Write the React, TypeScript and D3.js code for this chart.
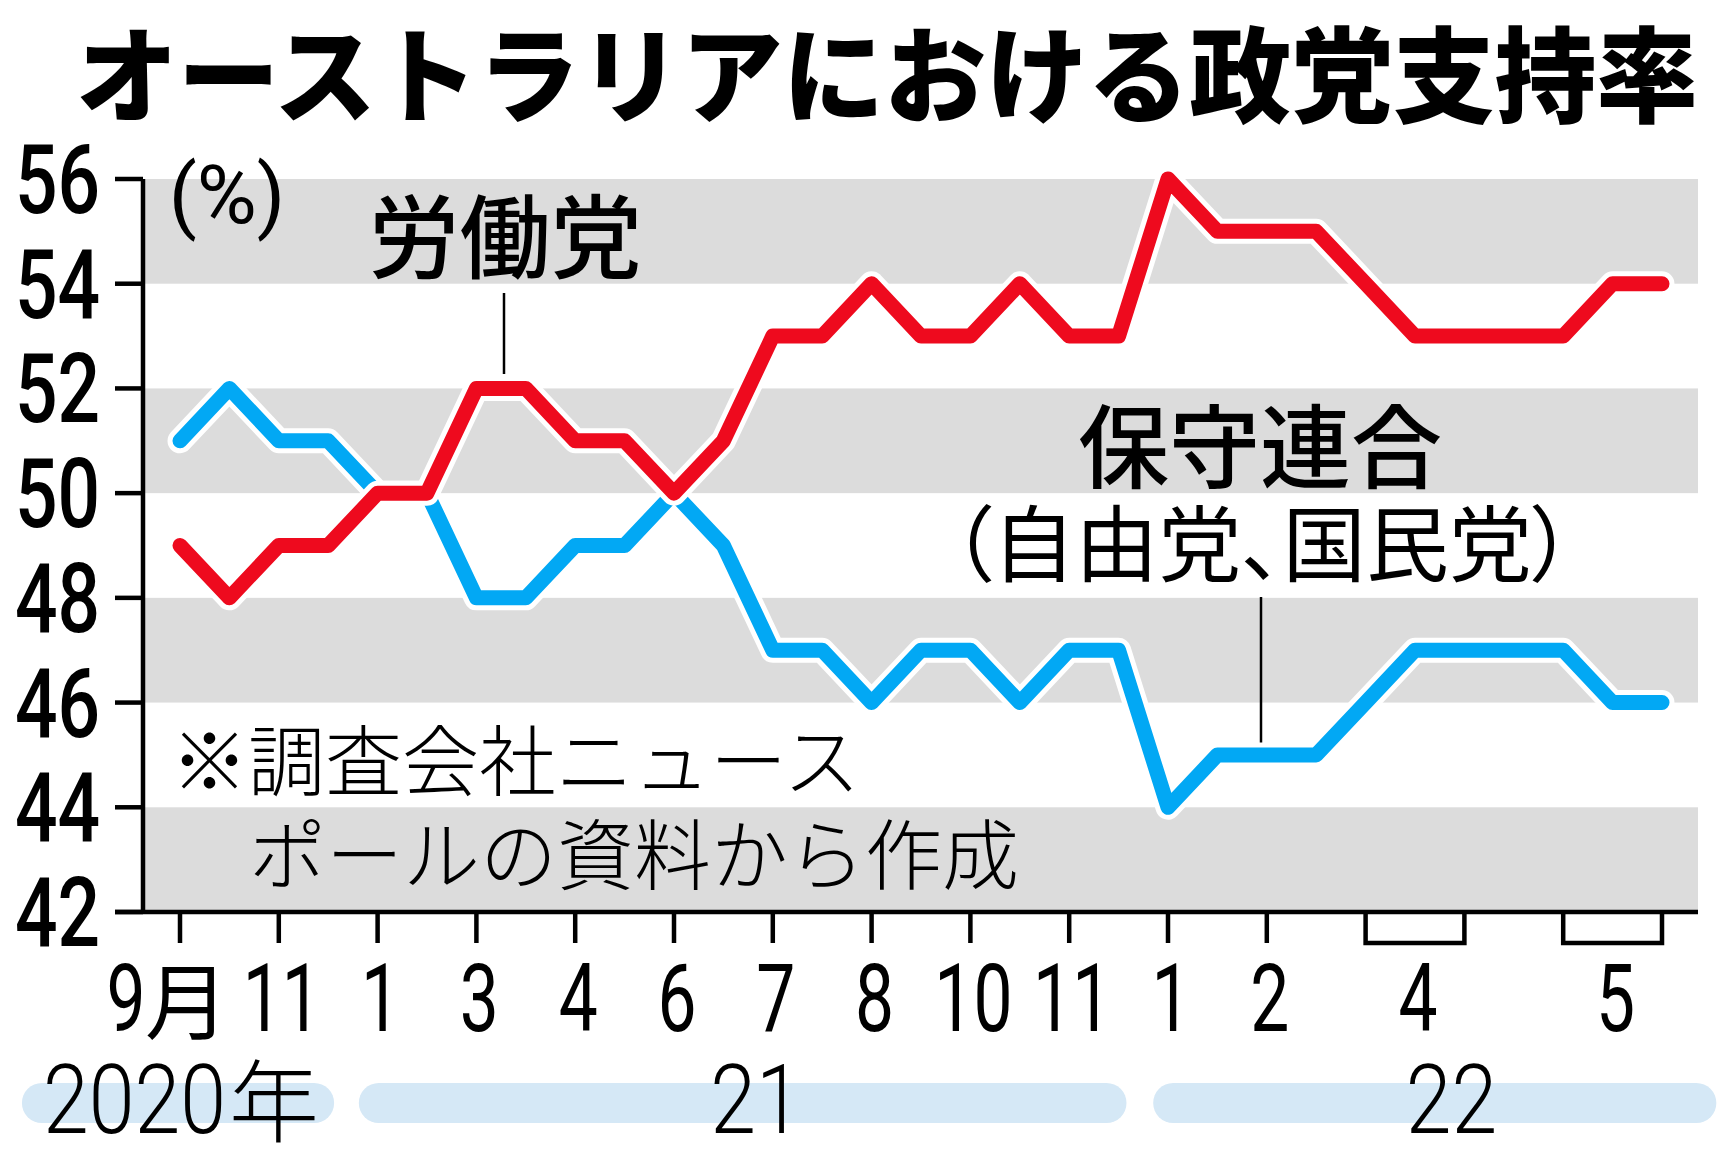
import React from "react";
import * as d3 from "d3";

// ---- data ----
const labor = [49, 48, 49, 49, 50, 50, 52, 52, 51, 51, 50, 51, 53, 53, 54, 53, 53, 54, 53, 53, 56, 55, 55, 55, 54, 53, 53, 53, 53, 54, 54];
const coalition = [51, 52, 51, 51, 50, 50, 48, 48, 49, 49, 50, 49, 47, 47, 46, 47, 47, 46, 47, 47, 44, 45, 45, 45, 46, 47, 47, 47, 47, 46, 46];
const monthLabels = ["9月", "11", "1", "3", "4", "6", "7", "8", "10", "11", "1", "2", "4", "5"];
const monthTickIndex = [0, 1, 2, 3, 4, 5, 6, 7, 8, 9, 10, 11, 12.5, 14.5];
const yTicks = [42, 44, 46, 48, 50, 52, 54, 56];
const yearLabels = ["2020年", "21", "22"];
const title = "オーストラリアにおける政党支持率";
const laborName = "労働党";
const coalitionName = "保守連合";
const coalitionSub = "（自由党、国民党）";
const noteLines = ["※調査会社ニュース", "ポールの資料から作成"];
const unitLabel = "(%)";

const W = 1733;
const H = 1158;
const RED = "#ee0a1e";
const BLUE = "#02a8f4";
const GRAY = "#dcdcdc";
const PILL = "#d5e8f6";
const NUM = "Roboto, 'Noto Sans', sans-serif";
const JP = "'Noto Sans CJK JP', 'Noto Sans', sans-serif";

export default function App() {
  const x = d3.scaleLinear().domain([0, 15]).range([180, 1662]);
  const y = d3.scaleLinear().domain([42, 56]).range([912, 179]);
  const plotLeft = 143;
  const plotRight = 1698;
  const axisY = y(42);

  const line = d3
    .line<number>()
    .x((_, i) => x(i / 2))
    .y((d) => y(d));

  const bands = [54, 50, 46, 42];
  const ticks = d3.range(0, 16);

  const series = [
    { vals: coalition, color: BLUE },
    { vals: labor, color: RED },
  ];

  const pills = [
    [-1.6, 1.56],
    [1.81, 9.58],
    [9.85, 15.55],
  ];

  return (
    <svg
      width={W}
      height={H}
      style={{ position: "absolute", left: 0, top: 0, background: "#fff" }}
    >
      {/* title */}
      <text
        x={887}
        y={115}
        textAnchor="middle"
        fontFamily={JP}
        fontWeight={900}
        fontSize={104}
        textLength={1622}
        lengthAdjust="spacingAndGlyphs"
        fill="#000"
      >
        {title}
      </text>

      {/* gray bands */}
      {bands.map((b) => (
        <rect
          key={b}
          x={plotLeft}
          y={y(b + 2)}
          width={plotRight - plotLeft}
          height={y(b) - y(b + 2)}
          fill={GRAY}
        />
      ))}

      {/* note text */}
      <text x={171} y={790} fontFamily={JP} fontWeight={300} fontSize={77} fill="#000">
        {noteLines[0]}
      </text>
      <text x={249} y={884} fontFamily={JP} fontWeight={300} fontSize={77} fill="#000">
        {noteLines[1]}
      </text>

      {/* axes */}
      <line x1={plotLeft} x2={plotLeft} y1={y(56)} y2={axisY} stroke="#000" strokeWidth={4.5} />
      <line x1={115} x2={plotRight} y1={axisY} y2={axisY} stroke="#000" strokeWidth={4.5} />
      {yTicks.map((t) => (
        <g key={t}>
          <line x1={115} x2={plotLeft} y1={y(t)} y2={y(t)} stroke="#000" strokeWidth={4.5} />
          <text
            transform={`translate(100,${y(t) + 34}) scale(0.78,1)`}
            textAnchor="end"
            fontFamily={NUM}
            fontWeight={500}
            fontSize={96}
            fill="#000"
          >
            {t}
          </text>
        </g>
      ))}
      {ticks.map((t) =>
        t < 12 ? (
          <line key={t} x1={x(t)} x2={x(t)} y1={axisY} y2={943} stroke="#000" strokeWidth={4.5} />
        ) : null
      )}
      {[12, 14].map((t) => (
        <path
          key={t}
          d={`M${x(t)},${axisY} V943 H${x(t + 1)} V${axisY}`}
          fill="none"
          stroke="#000"
          strokeWidth={4.5}
        />
      ))}

      {/* month labels */}
      {monthLabels.map((m, i) => {
        const cx = x(monthTickIndex[i]);
        if (m.endsWith("月")) {
          return (
            <g key={i}>
              <text
                transform={`translate(${cx - 54},1031) scale(0.74,1)`}
                textAnchor="middle"
                fontFamily={NUM}
                fontSize={94}
                fill="#000"
              >
                {m.slice(0, -1)}
              </text>
              <text x={cx - 35} y={1033} fontFamily={JP} fontSize={84} fill="#000">
                月
              </text>
            </g>
          );
        }
        return (
          <text
            key={i}
            transform={`translate(${cx + 3},1031) scale(0.74,1)`}
            textAnchor="middle"
            fontFamily={NUM}
            fontSize={94}
            fill="#000"
          >
            {m}
          </text>
        );
      })}

      {/* year pills */}
      {pills.map(([a, b], i) => (
        <rect
          key={i}
          x={x(a)}
          y={1083}
          width={x(b) - x(a)}
          height={40}
          rx={20}
          fill={PILL}
        />
      ))}
      <text
        transform={`translate(43,1133) scale(0.85,1)`}
        fontFamily={NUM}
        fontWeight={300}
        fontSize={97}
        fill="#000"
      >
        {yearLabels[0].slice(0, -1)}
      </text>
      <text x={229} y={1135} fontFamily={JP} fontWeight={300} fontSize={90} fill="#000">
        年
      </text>
      <text
        transform={`translate(${x(5.83)},1133) scale(0.85,1)`}
        textAnchor="middle"
        fontFamily={NUM}
        fontWeight={300}
        fontSize={97}
        fill="#000"
      >
        {yearLabels[1]}
      </text>
      <text
        transform={`translate(${x(12.87)},1133) scale(0.85,1)`}
        textAnchor="middle"
        fontFamily={NUM}
        fontWeight={300}
        fontSize={97}
        fill="#000"
      >
        {yearLabels[2]}
      </text>

      {/* unit */}
      <text x={227} y={223} textAnchor="middle" fontFamily={NUM} fontSize={82} fill="#000">
        {unitLabel}
      </text>

      {/* series labels & leaders */}
      <text x={505} y={271} textAnchor="middle" fontFamily={JP} fontWeight={500} fontSize={91} fill="#000">
        {laborName}
      </text>
      <line x1={504} x2={504} y1={293} y2={374} stroke="#000" strokeWidth={2.5} />
      <text x={1260} y={481} textAnchor="middle" fontFamily={JP} fontWeight={500} fontSize={91} fill="#000">
        {coalitionName}
      </text>
      <text
        x={1262}
        y={575}
        textAnchor="middle"
        fontFamily={JP}
        fontSize={83}
        fill="#000"
        style={{ fontFeatureSettings: '"palt"' }}
      >
        {coalitionSub}
      </text>
      <line x1={1261} x2={1261} y1={597} y2={743} stroke="#000" strokeWidth={2.5} />

      {/* lines */}
      {series.map((s, i) => (
        <g key={i}>
          <path
            d={line(s.vals) || ""}
            fill="none"
            stroke="#fff"
            strokeWidth={25}
            strokeLinejoin="round"
            strokeLinecap="round"
          />
          <path
            d={line(s.vals) || ""}
            fill="none"
            stroke={s.color}
            strokeWidth={15}
            strokeLinejoin="round"
            strokeLinecap="round"
          />
        </g>
      ))}
    </svg>
  );
}
